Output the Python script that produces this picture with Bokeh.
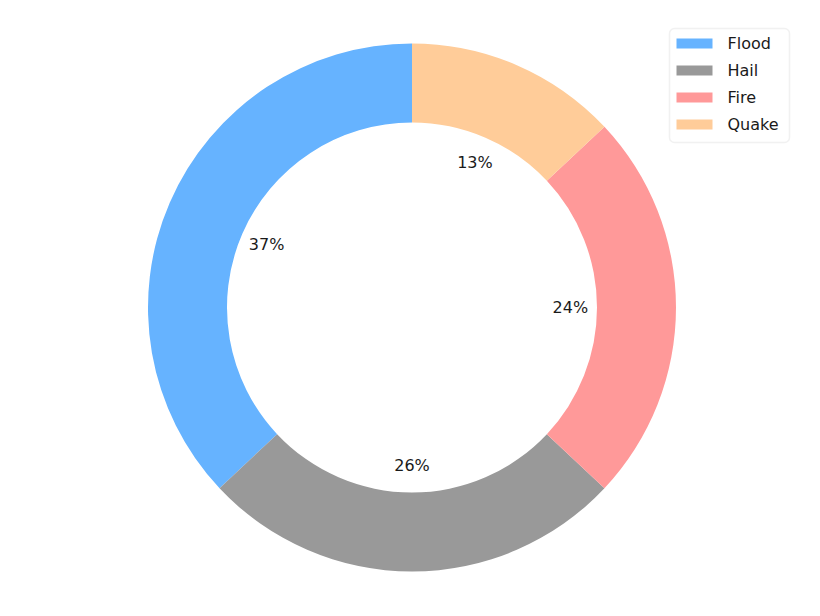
import math
from bokeh.plotting import figure
from bokeh.models import Range1d, BoxAnnotation, ColumnDataSource
from bokeh.core.properties import value
from bokeh.embed import file_html
from bokeh.resources import INLINE

categories = ["Flood", "Hail", "Fire", "Quake"]
values = [37, 26, 24, 13]
colors = ["#66b3ff", "#999999", "#ff9999", "#ffcc99"]

W, H = 804, 600
p = figure(width=W, height=H, x_range=Range1d(0, W), y_range=Range1d(0, H),
           output_backend="svg", toolbar_location=None, min_border=0)
p.axis.visible = False
p.grid.visible = False
p.outline_line_color = None
p.background_fill_color = "white"
p.border_fill_color = "white"

cx, cy = 411.5, H - 307
R_out, R_in = 264, 185

total = sum(values)
starts, ends, lx, ly, labels = [], [], [], [], []
a = math.pi / 2
for v in values:
    span = 2 * math.pi * v / total
    starts.append(a)
    ends.append(a + span)
    mid = a + span / 2
    lx.append(cx + 0.6 * R_out * math.cos(mid))
    ly.append(cy + 0.6 * R_out * math.sin(mid))
    labels.append(f"{v}%")
    a += span

src = ColumnDataSource(dict(start=starts, end=ends, color=colors))
p.annular_wedge(x=cx, y=cy, inner_radius=R_in, outer_radius=R_out,
                start_angle="start", end_angle="end", direction="anticlock",
                fill_color="color", line_color=None, source=src)

p.text(x=lx, y=ly, text=labels, text_align="center", text_baseline="middle",
       text_font=value("DejaVu Sans"), text_font_size="16px", text_color="#1a1a1a")

# legend
box = BoxAnnotation(left=669, right=789, top=H - 28, bottom=H - 142,
                    fill_color="white", fill_alpha=1.0, line_color="#d0d0d0",
                    line_width=1.5, border_radius=5, level="underlay")
p.add_layout(box)
ys = [H - (43 + 27 * i) for i in range(len(categories))]
p.rect(x=[694] * len(categories), y=ys, width=36, height=10,
       fill_color=colors, line_color=None)
p.text(x=[727] * len(categories), y=ys, text=categories, text_align="left",
       text_baseline="middle", text_font=value("DejaVu Sans"),
       text_font_size="16px", text_color="#1a1a1a")

open("out.html", "w").write(file_html(p, INLINE))
